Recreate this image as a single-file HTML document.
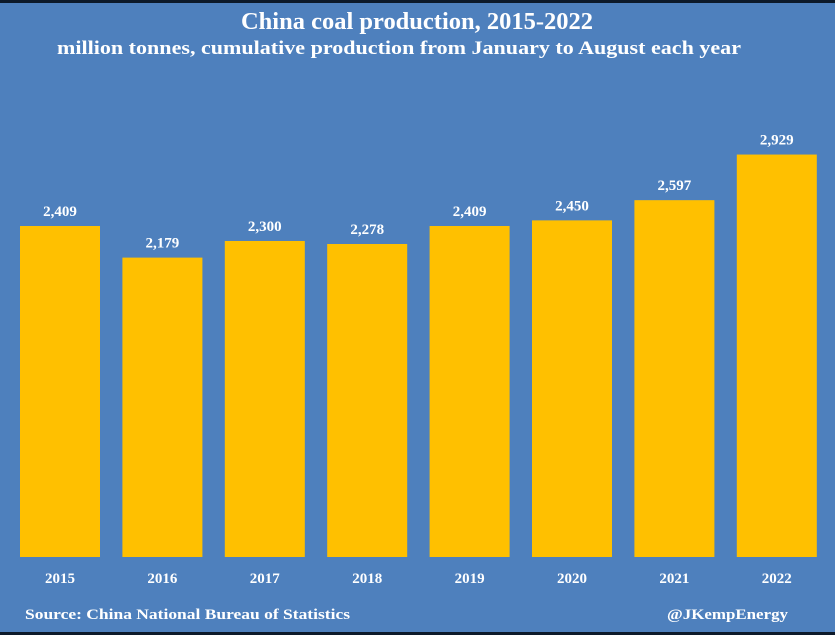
<!DOCTYPE html>
<html><head><meta charset="utf-8"><style>
html,body{margin:0;padding:0;background:#4e80bd;}
svg{display:block;font-family:"Liberation Serif",serif;}
</style></head><body>
<svg id="chart" width="835" height="635">
<rect x="0" y="0" width="835" height="635" fill="#4e80bd"/>
<rect x="0" y="0" width="835" height="3" fill="#0d1a2a"/>
<rect x="0" y="632" width="835" height="3" fill="#0d1a2a"/>
<text x="417" y="29" text-anchor="middle" fill="#fff" font-size="24" font-weight="bold" textLength="352" lengthAdjust="spacingAndGlyphs">China coal production, 2015-2022</text>
<text x="399" y="54" text-anchor="middle" fill="#fff" font-size="19" font-weight="bold" textLength="684" lengthAdjust="spacingAndGlyphs">million tonnes, cumulative production from January to August each year</text>
<g id="bars"></g>
<text x="25" y="619" fill="#fff" font-size="15" font-weight="bold" textLength="325" lengthAdjust="spacingAndGlyphs">Source: China National Bureau of Statistics</text>
<text x="788" y="619" text-anchor="end" fill="#fff" font-size="15" font-weight="bold" textLength="121" lengthAdjust="spacingAndGlyphs">@JKempEnergy</text>
</svg>
<script>
const years = ["2015","2016","2017","2018","2019","2020","2021","2022"];
const production = [2409, 2179, 2300, 2278, 2409, 2450, 2597, 2929];
const valueLabels = ["2,409","2,179","2,300","2,278","2,409","2,450","2,597","2,929"];

const baseY = 557, pxPerUnit = 331/2409;
function yScale(v){ return baseY - v*pxPerUnit; }
function xCenter(i){ return 60 + i*102.4; }
const barW = 80;
const g = document.getElementById('bars');
const NS = "http://www.w3.org/2000/svg";
years.forEach((yr,i)=>{
  const v = production[i];
  const r = document.createElementNS(NS,'rect');
  r.setAttribute('x', xCenter(i)-barW/2);
  r.setAttribute('y', yScale(v));
  r.setAttribute('width', barW);
  r.setAttribute('height', baseY - yScale(v));
  r.setAttribute('fill', '#ffc000');
  
  
  g.appendChild(r);
  const t = document.createElementNS(NS,'text');
  t.setAttribute('x', xCenter(i));
  t.setAttribute('y', yScale(v) - 10);
  t.setAttribute('text-anchor', 'middle');
  t.setAttribute('fill', '#fff');
  t.setAttribute('font-size', '15');
  t.setAttribute('font-weight', 'bold');
  t.textContent = valueLabels[i];
  
  
  g.appendChild(t);
  const x = document.createElementNS(NS,'text');
  x.setAttribute('x', xCenter(i));
  x.setAttribute('y', 583);
  x.setAttribute('text-anchor', 'middle');
  x.setAttribute('fill', '#fff');
  x.setAttribute('font-size', '15');
  x.setAttribute('font-weight', 'bold');
  x.textContent = yr;
  
  
  g.appendChild(x);
});
</script>
</body></html>
